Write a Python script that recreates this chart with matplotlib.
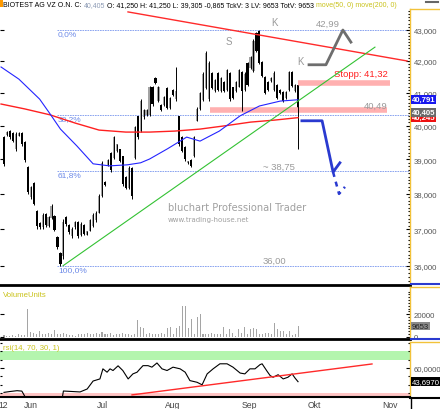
import numpy as np
import matplotlib
matplotlib.use("Agg")
import matplotlib.pyplot as plt
import matplotlib.transforms as mtransforms
from matplotlib import font_manager
from matplotlib.ticker import FixedLocator, NullFormatter, FuncFormatter
from matplotlib.lines import Line2D
from matplotlib.patches import Rectangle

plt.rcParams['font.family'] = ['Liberation Sans', 'DejaVu Sans']

# ---- price data (daily candles) ----
opens = [39.66, 39.72, 39.84, 39.78, 39.30, 39.70, 39.78, 39.50, 38.78, 37.90,
         38.30, 37.50, 37.18, 37.05, 37.42, 37.10, 37.32, 37.36, 36.78, 36.35,
         36.25, 37.33, 37.12, 36.80, 37.05, 37.20, 36.85, 37.12, 36.85, 36.96,
         37.10, 37.25, 37.45, 37.95, 38.35, 38.82, 39.20, 39.05, 39.25, 39.30,
         39.10, 38.50, 38.18, 38.76, 39.05, 40.28, 39.85, 40.25, 40.32, 40.32,
         41.18, 41.48, 40.75, 40.64, 40.62, 41.15, 40.55, 41.10, 40.80, 40.28,
         39.66, 39.38, 38.88, 38.98, 39.10, 40.15, 40.50, 40.78, 41.15, 40.80,
         41.62, 41.05, 41.62, 41.05, 41.35, 41.08, 41.62, 41.17, 41.05, 41.20,
         41.65, 41.08, 41.95, 41.78, 41.68, 42.88, 42.95, 41.98, 41.50, 41.35,
         41.36, 41.08, 41.26, 41.10, 41.04, 40.85, 41.08, 41.65, 41.05, 41.25]
highs = [39.69, 39.84, 39.87, 39.81, 39.81, 39.81, 39.81, 39.54, 38.81, 38.24,
         38.35, 37.53, 37.21, 37.45, 37.45, 37.37, 37.72, 37.39, 36.80, 36.37,
         37.29, 37.37, 37.15, 37.07, 37.23, 37.23, 37.21, 37.15, 36.96, 37.29,
         37.45, 37.50, 38.00, 38.96, 38.38, 39.01, 39.22, 39.69, 39.46, 39.31,
         39.11, 38.52, 38.81, 38.79, 40.00, 40.30, 40.81, 40.51, 40.51, 41.22,
         41.22, 41.50, 41.22, 40.66, 40.91, 41.19, 40.88, 41.12, 41.81, 40.30,
         39.69, 39.40, 38.96, 39.01, 39.69, 40.57, 41.03, 41.65, 42.32, 42.00,
         41.65, 41.43, 41.65, 41.50, 41.37, 41.75, 41.65, 41.19, 41.37, 41.75,
         41.68, 41.65, 41.97, 42.16, 42.70, 42.93, 42.99, 42.00, 41.53, 41.37,
         41.50, 41.68, 41.28, 41.12, 41.06, 41.06, 41.68, 41.68, 41.28, 41.25]
lows = [38.81, 39.69, 39.60, 39.51, 39.25, 39.69, 39.40, 38.93, 38.00, 37.86,
        37.67, 37.02, 37.02, 37.02, 37.07, 37.07, 37.29, 36.94, 36.45, 36.00,
        36.18, 37.10, 36.88, 36.75, 37.02, 36.75, 36.80, 36.83, 36.83, 36.94,
        37.07, 37.21, 37.45, 37.92, 38.24, 38.81, 38.63, 39.01, 39.22, 38.93,
        38.24, 38.14, 38.14, 37.86, 39.01, 39.60, 39.81, 40.20, 40.30, 40.30,
        40.60, 41.28, 40.72, 40.45, 40.60, 40.51, 40.51, 40.91, 40.75, 39.40,
        39.22, 38.96, 38.87, 38.79, 39.08, 40.15, 40.48, 40.75, 41.12, 40.75,
        41.12, 41.03, 41.06, 41.03, 41.03, 41.06, 40.75, 40.81, 41.03, 41.20,
        40.45, 41.06, 41.22, 41.75, 41.65, 42.28, 41.90, 41.50, 40.97, 41.06,
        41.34, 41.06, 40.81, 40.97, 40.72, 40.81, 41.06, 41.19, 41.03, 39.305]
closes = [38.85, 39.80, 39.65, 39.55, 39.75, 39.78, 39.45, 38.98, 38.05, 38.20,
          37.72, 37.08, 37.05, 37.40, 37.12, 37.33, 37.65, 36.98, 36.50, 36.05,
          37.20, 37.15, 36.92, 37.02, 37.20, 36.80, 37.15, 36.88, 36.94, 37.25,
          37.40, 37.45, 37.95, 38.90, 38.26, 38.98, 38.68, 39.65, 39.44, 38.96,
          38.28, 38.18, 38.75, 37.95, 39.95, 39.65, 40.75, 40.48, 40.48, 41.18,
          40.65, 41.30, 41.18, 40.48, 40.88, 40.55, 40.85, 40.94, 41.05, 39.45,
          39.25, 39.00, 38.94, 38.82, 39.65, 40.52, 41.00, 41.60, 42.25, 41.95,
          41.15, 41.40, 41.10, 41.45, 41.06, 41.70, 40.80, 40.85, 41.33, 41.70,
          41.05, 41.60, 41.25, 42.12, 42.65, 42.32, 41.95, 41.53, 41.00, 41.10,
          41.48, 41.62, 40.85, 41.00, 40.75, 41.03, 41.65, 41.22, 41.25, 40.405]
volumes = [1500, 900, 1200, 1500, 900, 2300, 1500, 1500, 24400, 4500,
           3800, 2900, 5000, 3000, 2300, 3800, 2300, 6200, 2900, 2300,
           3800, 2300, 1500, 1500, 900, 2300, 2300, 3000, 3800, 2900,
           2300, 3800, 2900, 4500, 2300, 2300, 3800, 1500, 2300, 2300,
           3800, 2300, 2900, 1500, 2300, 14700, 8800, 8200, 2300, 3800,
           2300, 2900, 2300, 3800, 2300, 8200, 8800, 2300, 8200, 9700,
           27300, 27300, 8200, 15600, 3000, 17600, 20000, 2300, 2300, 2900,
           3800, 2300, 2900, 2300, 8800, 2900, 6800, 3800, 900, 6800,
           3800, 8800, 2300, 6800, 8200, 6800, 2300, 2300, 3800, 3800,
           2300, 12600, 7300, 5300, 5300, 2300, 5300, 1500, 2300, 9653]

# moving averages, sampled along the curve (bar index, value)
ma50_x = [-1, 5, 12, 15.5, 19, 24.5, 30, 35.5, 41.5, 46, 49, 55, 61.5, 66, 72.5, 79.5, 86, 93, 99]
ma50_y = [41.81, 41.43, 40.81, 40.36, 39.90, 39.40, 38.87, 38.81, 38.84, 38.90,
          39.01, 39.31, 39.66, 39.54, 39.84, 40.30, 40.60, 40.75, 40.791]
ma200_x = [-1, 7, 15.5, 24, 32, 41, 49, 57.5, 66, 74.5, 83, 91, 99]
ma200_y = [40.66, 40.51, 40.33, 40.08, 39.87, 39.81, 39.81, 39.84, 39.90, 40.00,
           40.11, 40.17, 40.245]

# rsi(14) sampled along the curve
rsi_x = [0, 2, 4.4, 6, 7.7, 12, 17, 19.5, 20, 25.6, 28, 30, 32.3, 33.3, 34.7, 35.7,
         36.7, 38.4, 40, 41.8, 43.4, 44.8, 45.8, 46.8, 48.5, 49.8, 51.5, 53.2, 54.9,
         56.9, 59.3, 61, 62.6, 65, 66.7, 68.4, 70.4, 72.7, 75.1, 77.1, 79.5, 81.1,
         82.8, 84.5, 86.2, 86.9, 88.6, 89.6, 90.6, 92.3, 94, 95.6, 97, 98, 99]
rsi_y = [31, 32, 33, 32.5, 22, 18, 20, 22, 32.6, 31.5, 35, 44.5, 47, 59, 55, 59,
         57, 62.6, 57, 47, 53, 55, 59, 62.8, 62.8, 61, 66, 59, 57,
         61, 59, 55, 45, 43, 40, 53, 59, 65, 65, 61, 54, 53,
         59, 59, 64, 65, 56, 51, 49, 52, 47, 49, 53, 48, 43.697]

# drawing tools on the chart
fib_low, fib_high = 36.00, 42.99
fib_ratios = [0.0, 0.382, 0.618, 1.0]
fib_labels = ["0,0%", "38,2%", "61,8%", "100,0%"]
resist_x, resist_y = [41.75, 135.7], [43.58, 42.00]
support_x, support_y = [19.9, 124.9], [36.00, 42.44]
stop_level, stop_x = 41.32, [99, 130]
level2, level2_x = 40.49, [69.4, 129]
grey_path_x = [102.7, 108.4, 114.1, 116.8]
grey_path_y = [41.88, 41.88, 42.99, 42.60]
blue_path_x = [100.3, 107.1, 110.8, 113.1]
blue_path_y = [40.15, 40.15, 38.63, 38.90]
blue_dash_x = [110.8, 112.8, 114.8]
blue_dash_y = [38.63, 38.00, 38.20]
rsi_trend_x, rsi_trend_y = [43.1, 123.9], [28, 64.8]

month_pos = [-0.2, 9.1, 33, 56.7, 82.7, 104.4, 130]
month_lbl = ["12", "Jun", "Jul", "Aug", "Sep", "Okt", "Nov"]
price_ticks = [36, 37, 38, 39, 40, 41, 42, 43]

title_parts = [("BIOTEST AG VZ O.N. C: ", "black"), ("40,405", "#8d9bb5"),
               (" O: 41,250 H: 41,250 L: 39,305 -0,865 TckV: 3 LV: 9653 TotV: 9653 ", "black"),
               ("move(50, 0) move(200, 0)", "#c9c21a")]

W, H = 440, 410
YEL = '#f2c23a'
GREY_TXT = '#9a9a9a'
AXFS = 5.6
fig = plt.figure(figsize=(W / 100, H / 100), dpi=100)


def box(x0, y0, x1, y1):
    return [x0 / W, 1 - y1 / H, (x1 - x0) / W, (y1 - y0) / H]


ax = fig.add_axes(box(0, 10, 410, 286))
axv = fig.add_axes(box(0, 288, 410, 340), sharex=ax)
axr = fig.add_axes(box(0, 343, 410, 398), sharex=ax)

o = np.array(opens); h = np.array(highs); l = np.array(lows); c = np.array(closes)
idx = np.arange(len(c))
body_col = np.where(c >= o, '#a3a3a3', '#000000')

# ---- main price panel ----
ax.set_yscale('log')
ax.bar(idx, np.abs(c - o), bottom=np.minimum(o, c), width=0.72, color=body_col, lw=0, zorder=2)
ax.vlines(idx, l, h, color='black', lw=0.7, zorder=3)
ax.plot(ma200_x, ma200_y, color='#ff2020', lw=1.0, zorder=4)
ax.plot(ma50_x, ma50_y, color='#2424ff', lw=0.8, zorder=4)
ax.plot(resist_x, resist_y, color='#ff2a2a', lw=1.0, zorder=4)
ax.plot(support_x, support_y, color='#33c233', lw=0.8, zorder=4)

for r, lab in zip(fib_ratios, fib_labels):
    lev = fib_high - r * (fib_high - fib_low)
    ax.hlines(lev, 17.8, 136.7, color='#7a96ee', lw=0.6, linestyles=(0, (2, 1)), zorder=1)
    ax.text(18.2, lev, lab, color='#6d8ae8', fontsize=6, va='top', ha='left')

ax.hlines(stop_level, stop_x[0], stop_x[1], color='#ffb0b0', lw=4, zorder=2)
ax.hlines(level2, level2_x[0], level2_x[1], color='#ffb0b0', lw=4, zorder=2)
ax.plot(grey_path_x, grey_path_y, color='#6e6e6e', lw=2, zorder=5)
ax.plot(blue_path_x, blue_path_y, color='#2a3ad0', lw=2, zorder=5)
ax.plot(blue_dash_x, blue_dash_y, color='#2a3ad0', lw=1.8, ls=(0, (2, 2)), zorder=5)

ax.text(129.3, 41.59, "Stopp: 41,32", color='#ff2020', fontsize=6.8, ha='right', va='center')
ax.text(129, 40.63, "40,49", color=GREY_TXT, fontsize=6.8, ha='right', va='center')
ax.text(109, 43.22, "42,99", color=GREY_TXT, fontsize=6.8, ha='center', va='center')
ax.text(91.2, 43.25, "K", color=GREY_TXT, fontsize=7, ha='center', va='center')
ax.text(75.8, 42.64, "S", color=GREY_TXT, fontsize=7, ha='center', va='center')
ax.text(99.7, 42.0, "K", color=GREY_TXT, fontsize=7, ha='center', va='center')
ax.text(87.2, 38.81, "~ 38,75", color=GREY_TXT, fontsize=6.8, ha='left', va='center')
ax.text(87.2, 36.15, "36,00", color=GREY_TXT, fontsize=6.8, ha='left', va='center')
ax.text(0.41, 0.284, "bluchart Professional Trader", transform=ax.transAxes,
        color='#a0a0a0', fontsize=7.1, family='DejaVu Sans', va='center', ha='left')
ax.text(0.41, 0.24, "www.trading-house.net", transform=ax.transAxes,
        color='#a0a0a0', fontsize=5.0, family='DejaVu Sans', va='center', ha='left')

ax.set_xlim(-1.35, 136.7)
ax.set_ylim(35.48, 43.676)
ax.yaxis.tick_right()
ax.yaxis.set_major_locator(FixedLocator(price_ticks))
ax.yaxis.set_major_formatter(FuncFormatter(lambda v, p: f"{v:.3f}".replace('.', ',')))
ax.yaxis.set_minor_locator(FixedLocator(np.arange(35.6, 43.7, 0.1)))
ax.yaxis.set_minor_formatter(NullFormatter())
ax.tick_params(axis='y', which='major', direction='in', length=3, labelsize=AXFS,
               labelcolor='#555555', pad=2.5, left=True, right=True, width=0.8)
ax.tick_params(axis='y', which='minor', direction='in', length=1.5, left=False, right=True, width=0.8)
ax.tick_params(axis='x', length=0, labelbottom=False)

trans = mtransforms.blended_transform_factory(ax.transAxes, ax.transData)
for val, txt, col in [(40.245, "40,245", '#ee1111'), (40.405, "40,405", '#6a6a6a'),
                      (40.791, "40,791", '#1818ee')]:
    ax.text(1.004, val, txt, transform=trans, color='white', fontsize=AXFS, fontweight='bold',
            va='center', ha='left', clip_on=False,
            bbox=dict(boxstyle='square,pad=0.12', fc=col, ec='none'))

# ---- volume panel ----
axv.bar(idx, volumes, width=0.35, color='#a5a5a5', lw=0)
axv.set_ylim(-1762, 44050)
axv.yaxis.tick_right()
axv.set_yticks([0, 20000], ["0", "20000"])
axv.yaxis.set_minor_locator(FixedLocator(np.arange(2500, 42000, 2500)))
axv.tick_params(axis='y', which='major', direction='in', length=3, labelsize=AXFS,
                labelcolor='#555555', pad=2.5, left=True, width=0.8)
axv.tick_params(axis='y', which='minor', direction='in', length=1.5, width=0.8)
axv.tick_params(axis='x', length=0, labelbottom=False)
axv.text(0.008, 0.93, "VolumeUnits", transform=axv.transAxes, color='#c9c21a', fontsize=5.6, va='top')
vtrans = mtransforms.blended_transform_factory(axv.transAxes, axv.transData)
axv.text(1.004, volumes[-1], "9653", transform=vtrans, color='#222222', fontsize=AXFS, va='center',
         ha='left', clip_on=False, bbox=dict(boxstyle='square,pad=0.12', fc='#8a8a8a', ec='none'))

# ---- rsi panel ----
axr.axhspan(70, 80, color='#b4f5ae', lw=0)
axr.axhspan(20, 30, color='#ffc4c4', lw=0)
axr.plot(rsi_x, rsi_y, color='black', lw=0.8)
axr.plot(rsi_trend_x, rsi_trend_y, color='#ff2a2a', lw=1.0)
axr.set_ylim(25.48, 90.95)
axr.yaxis.tick_right()
axr.set_yticks([60], ["60,0000"])
axr.yaxis.set_minor_locator(FixedLocator([30, 40, 50, 70, 80, 90]))
axr.tick_params(axis='y', which='major', direction='in', length=3, labelsize=AXFS,
                labelcolor='#555555', pad=2.5, left=True, width=0.8)
axr.tick_params(axis='y', which='minor', direction='in', length=1.5, left=True, width=0.8)
axr.set_xticks(month_pos, month_lbl)
axr.tick_params(axis='x', length=0, labelsize=6.2, labelcolor='#444444', pad=2)
rtrans = mtransforms.blended_transform_factory(axr.transAxes, axr.transData)
axr.text(1.004, rsi_y[-1], "43,6970", transform=rtrans, color='white', fontsize=AXFS, va='center',
         ha='left', clip_on=False, bbox=dict(boxstyle='square,pad=0.12', fc='black', ec='none'))
axr.text(0.008, 0.97, "rsi(14, 70, 30, 1)", transform=axr.transAxes, color='#c9c21a', fontsize=5.6, va='top')

for a, bw in [(ax, 2), (axv, 2), (axr, 1.5)]:
    a.spines['left'].set_visible(False)
    a.spines['top'].set_visible(False)
    a.spines['right'].set_color(YEL)
    a.spines['right'].set_linewidth(1)
    a.spines['bottom'].set_linewidth(bw)
    a.set_facecolor('none')

# small frame details of the right-hand scale boxes
for y in [10, 288, 343]:
    fig.add_artist(Line2D([410 / W, 1], [1 - y / H] * 2, color=YEL, lw=1))
for y in [285, 339.5]:
    fig.add_artist(Line2D([411 / W, 1], [1 - y / H] * 2, color='#2a3ad0', lw=1.5))
fig.add_artist(Line2D([410 / W, 1], [1 - 398.5 / H] * 2, color='black', lw=1.5))
fig.add_artist(Line2D([411 / W, 411 / W], [0, 1 - 399 / H], color='black', lw=1))
fig.add_artist(Line2D([426 / W, 438 / W], [1 - 3 / H] * 2, color='#666666', lw=1.5))
fig.add_artist(Rectangle((0, 1 - 8 / H), 2.5 / W, 8 / H, transform=fig.transFigure,
                         color='#ff9a00', lw=0))

# ---- title line: fit the whole header into the width it takes in the original ----
installed = {f.name for f in font_manager.fontManager.ttflist}
title_font = ['Liberation Sans Narrow'] if 'Liberation Sans Narrow' in installed else ['Liberation Sans']
rend = fig.canvas.get_renderer()


def draw_title(fs):
    x = 3
    items = []
    for s, col in title_parts:
        t = fig.text(x / W, 1 - 5.5 / H, s, color=col, fontsize=fs, va='center', ha='left',
                     family=title_font)
        items.append(t)
        x += t.get_window_extent(rend).width
    return items, x


items, end = draw_title(6.2)
for t in items:
    t.remove()
draw_title(6.2 * (392 - 3) / (end - 3))

fig.savefig("out.png", dpi=100)
